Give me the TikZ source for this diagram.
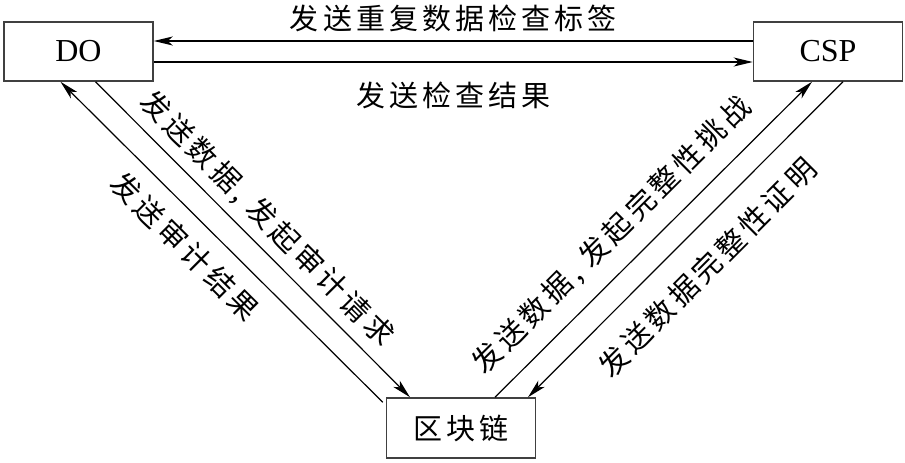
\documentclass[tikz,border=0pt]{standalone}
\usepackage{fontspec}
\setmainfont{Liberation Serif}
\newfontfamily\cjk{Noto Sans CJK SC}[LetterSpace=14]
\usetikzlibrary{arrows.meta}

\begin{document}
\begin{tikzpicture}[x=1pt,y=-1pt,>={Stealth[length=19pt,width=9pt,inset=5pt]},line width=1.2pt,
   box/.style={draw=black!75,line width=1.5pt,minimum width=149pt,minimum height=59pt,inner sep=0pt,font=\fontsize{32}{36}\selectfont},
   lbl/.style={font=\cjk\fontsize{29}{33}\selectfont,inner sep=0pt}]
   \useasboundingbox (0,0) rectangle (905,463);
   \node [box] (DO) at (78.5,51.5) {DO};
   \node [box] (CSP) at (828,51.5) {CSP};
   \node [box,minimum height=60pt,font=\cjk\fontsize{29}{33}\selectfont] (chain) at (461,428) {区块链};
    \path[->]
    ([yshift=10.5pt]CSP.west) edge node [lbl,yshift=23pt] {发送重复数据检查标签} ([yshift=10.5pt]DO.east)
    ([yshift=-10.5pt]DO.east) edge node [lbl,yshift=-33pt] {发送检查结果} ([yshift=-10.5pt]CSP.west)
    ([xshift=17pt]DO.south) edge node [lbl,sloped,pos=.49,yshift=24pt] {发送数据, 发起审计请求} ([xshift=-51pt]chain.north)
    ([xshift=-3pt,yshift=-5pt]chain.north west) edge node [lbl,sloped,pos=.55,yshift=-29pt] {发送审计结果} ([xshift=-18pt]DO.south)
    ([xshift=34pt]chain.north) edge node [lbl,sloped,pos=.44,yshift=32pt] {发送数据, 发起完整性挑战} ([xshift=-16pt]CSP.south)
    ([xshift=15pt]CSP.south) edge node [lbl,sloped,pos=.51,yshift=-35pt] {发送数据完整性证明} ([xshift=67pt]chain.north);
\end{tikzpicture}
\end{document}
